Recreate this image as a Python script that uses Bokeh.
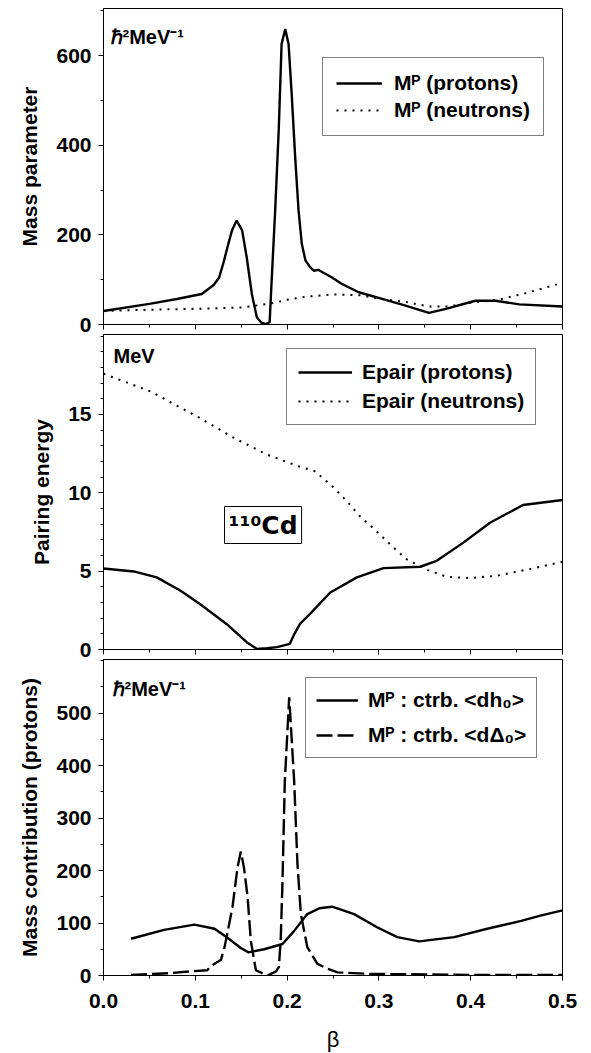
from bokeh.plotting import figure
from bokeh.layouts import column
from bokeh.models import (Legend, LegendItem, Label, FixedTicker, SingleIntervalTicker,
                          NumeralTickFormatter, Range1d)
from bokeh.embed import file_html
from bokeh.resources import INLINE

# ---------------- data ----------------
# Panel 1: mass parameter (hbar^2 MeV^-1)
beta_mp_protons = [0.0, 0.05, 0.08, 0.107, 0.12, 0.126, 0.131, 0.136, 0.14, 0.145,
                   0.151, 0.156, 0.1616, 0.167, 0.172, 0.177, 0.181, 0.183, 0.187,
                   0.191, 0.194, 0.198, 0.2016, 0.205, 0.209, 0.2125, 0.216, 0.22,
                   0.225, 0.229, 0.234, 0.24, 0.249, 0.26, 0.278, 0.3035, 0.329,
                   0.3545, 0.373, 0.405, 0.427, 0.453, 0.5]
mp_protons = [30, 46, 57, 68, 88, 105, 140, 180, 210, 232,
              210, 150, 68, 16, 4, 1, 5, 91, 254,
              440, 626, 659, 626, 514, 366, 254, 180, 143,
              128, 120, 122, 115, 105, 90, 72, 57, 42,
              26, 35, 53, 53, 45, 40]

beta_mp_neutrons = [0.0, 0.05, 0.1, 0.15, 0.18, 0.2, 0.22, 0.25, 0.28, 0.30, 0.33,
                    0.355, 0.375, 0.405, 0.43, 0.46, 0.5]
mp_neutrons = [30, 33, 35, 38, 46, 55, 62, 67, 65, 58, 50,
               40, 40, 50, 55, 70, 93]

# Panel 2: pairing energy (MeV)
beta_ep_protons = [0.0, 0.033, 0.058, 0.084, 0.105, 0.134, 0.156, 0.167, 0.178, 0.189,
                   0.203, 0.208, 0.214, 0.225, 0.247, 0.276, 0.305, 0.345, 0.363,
                   0.392, 0.421, 0.457, 0.5]
ep_protons = [5.17, 4.98, 4.6, 3.75, 2.9, 1.63, 0.47, 0.04, 0.08, 0.15,
              0.36, 1.0, 1.63, 2.27, 3.64, 4.6, 5.19, 5.28, 5.66,
              6.82, 8.09, 9.22, 9.54]

beta_ep_neutrons = [0.0, 0.051, 0.105, 0.142, 0.178, 0.212, 0.23, 0.249, 0.265, 0.279,
                    0.297, 0.314, 0.33, 0.339, 0.355, 0.374, 0.399, 0.428, 0.464, 0.5]
ep_neutrons = [17.6, 16.47, 14.77, 13.5, 12.44, 11.7, 11.38, 10.43, 9.47, 8.52,
               7.57, 6.61, 5.77, 5.49, 5.02, 4.64, 4.56, 4.7, 5.13, 5.6]

# Panel 3: mass contributions (protons)
beta_dh = [0.03, 0.066, 0.099, 0.121, 0.135, 0.15, 0.158, 0.175, 0.195, 0.2077,
           0.222, 0.235, 0.249, 0.273, 0.298, 0.32, 0.344, 0.382, 0.418, 0.455,
           0.476, 0.5]
m_dh = [70, 87, 97, 89, 72, 52, 44, 50, 60, 85,
        117, 128, 131, 117, 92, 73, 65, 73, 89, 104,
        114, 124]

beta_ddelta = [0.03, 0.073, 0.095, 0.113, 0.117, 0.128, 0.132, 0.1405, 0.146, 0.1496,
               0.153, 0.157, 0.1605, 0.166, 0.1787, 0.188, 0.191, 0.193, 0.195,
               0.1975, 0.2023, 0.2077, 0.2113, 0.215, 0.222, 0.233, 0.244, 0.255,
               0.29, 0.35, 0.4, 0.5]
m_ddelta = [1, 4.5, 8, 10, 18, 30, 55, 130, 206, 236,
            206, 149, 66, 10, 0, 8, 16, 66, 180,
            370, 530, 370, 212, 117, 54, 22, 13, 6,
            3, 2, 1, 1]

# tick values
y1_ticks = [0, 200, 400, 600]
y1_minor = [0, 100, 200, 300, 400, 500, 600, 700]
y2_ticks = [0, 5, 10, 15]
y2_minor = [0, 1, 2, 3, 4, 5, 6, 7, 8, 9, 10, 11, 12, 13, 14, 15, 16, 17, 18, 19, 20]
y3_ticks = [0, 100, 200, 300, 400, 500]
y3_minor = [0, 50, 100, 150, 200, 250, 300, 350, 400, 450, 500, 550, 600]
y_labels = ["Mass parameter", "Pairing energy", "Mass contribution (protons)"]

# ---------------- styling helpers ----------------
FONT = "Liberation Sans"
FS = "21px"
LW = 2.4


def make_fig(ymax, ticks, minor, top, bottom, frame_h, ylabel, show_x):
    p = figure(frame_width=459, frame_height=frame_h,
               x_range=Range1d(0, 0.5), y_range=Range1d(0, ymax),
               min_border_left=103, min_border_right=29,
               min_border_top=top, min_border_bottom=bottom,
               output_backend="svg", toolbar_location=None)
    p.xgrid.visible = False
    p.ygrid.visible = False
    p.outline_line_color = "black"
    p.outline_line_width = 1
    p.background_fill_color = "white"

    p.xaxis.ticker = SingleIntervalTicker(interval=0.1, num_minor_ticks=2)
    p.xaxis.formatter = NumeralTickFormatter(format="0.0")
    p.yaxis.ticker = FixedTicker(ticks=ticks, minor_ticks=minor)
    for ax in (p.xaxis, p.yaxis):
        ax.axis_line_color = "black"
        ax.major_tick_line_color = "black"
        ax.minor_tick_line_color = "black"
        ax.major_tick_out = 5
        ax.major_tick_in = 0
        ax.minor_tick_out = 3
        ax.minor_tick_in = 0
        ax.major_label_text_font = FONT
        ax.major_label_text_font_style = "bold"
        ax.major_label_text_font_size = FS
        ax.major_label_text_color = "black"
        ax.axis_label_text_font = FONT
        ax.axis_label_text_color = "black"
    p.yaxis.axis_label = ylabel
    p.yaxis.axis_label_text_font_style = "bold"
    p.yaxis.axis_label_text_font_size = FS
    p.yaxis.major_label_standoff = 7
    p.yaxis.axis_label_standoff = 12
    if not show_x:
        p.xaxis.major_label_text_color = None
        p.xaxis.major_label_text_font_size = "1px"
        p.xaxis.major_label_standoff = 0
    return p


def style_legend(leg, loc, glyph_w, standoff, spacing, padding):
    leg.location = loc
    leg.margin = 0
    leg.padding = padding
    leg.spacing = spacing
    leg.glyph_width = glyph_w
    leg.glyph_height = 22
    leg.label_height = 22
    leg.label_standoff = standoff
    leg.label_text_font = FONT
    leg.label_text_font_style = "bold"
    leg.label_text_font_size = FS
    leg.label_text_color = "black"
    leg.border_line_color = "black"
    leg.border_line_width = 1
    leg.background_fill_color = "white"
    leg.background_fill_alpha = 1


def unit_label(p, text, x, y):
    p.add_layout(Label(x=x, y=y, x_units="screen", y_units="screen", text=text,
                       text_font=FONT, text_font_style="bold", text_font_size="20px",
                       text_baseline="top", text_align="left", text_color="black"))


# ---------------- panel 1 ----------------
p1 = make_fig(705, y1_ticks, y1_minor, 8, 20, 316, y_labels[0], False)
r1 = p1.line(beta_mp_protons, mp_protons, line_color="black", line_width=LW)
r2 = p1.line(beta_mp_neutrons, mp_neutrons, line_color="black", line_width=2,
             line_dash="2 6")
leg1 = Legend(items=[LegendItem(label="Mᴾ (protons)", renderers=[r1]),
                     LegendItem(label="Mᴾ (neutrons)", renderers=[r2])])
style_legend(leg1, (219, 188), 46, 12, 3, 13)
p1.add_layout(leg1)
unit_label(p1, "ℏ²MeV⁻¹", 7, 299)

# ---------------- panel 2 ----------------
p2 = make_fig(20.1, y2_ticks, y2_minor, 1, 20, 315, y_labels[1], False)
p2.margin = (-11, 0, 0, 0)
p2.border_fill_alpha = 0
r3 = p2.line(beta_ep_protons, ep_protons, line_color="black", line_width=LW)
r4 = p2.line(beta_ep_neutrons, ep_neutrons, line_color="black", line_width=2,
             line_dash="2 6")
leg2 = Legend(items=[LegendItem(label="Epair (protons)", renderers=[r3]),
                     LegendItem(label="Epair (neutrons)", renderers=[r4])])
style_legend(leg2, (183, 224), 54, 10, 5, 11)
p2.add_layout(leg2)
unit_label(p2, "MeV", 10, 305)
p2.add_layout(Label(x=121, y=106, x_units="screen", y_units="screen",
                    text="¹¹⁰Cd", text_font="DejaVu Sans", text_font_style="bold",
                    text_font_size="25px", text_baseline="bottom",
                    text_color="black", border_line_color="black",
                    border_line_width=1, background_fill_color="white",
                    padding=4))

# ---------------- panel 3 ----------------
p3 = make_fig(602, y3_ticks, y3_minor, 1, 78, 316, y_labels[2], True)
p3.margin = (-11, 0, 0, 0)
p3.border_fill_alpha = 0
r5 = p3.line(beta_dh, m_dh, line_color="black", line_width=LW)
r6 = p3.line(beta_ddelta, m_ddelta, line_color="black", line_width=LW,
             line_dash="16 5")
leg3 = Legend(items=[LegendItem(label="Mᴾ : ctrb. <dh₀>", renderers=[r5]),
                     LegendItem(label="Mᴾ : ctrb. <dΔ₀>", renderers=[r6])])
style_legend(leg3, (202, 217), 42, 10, 11, 10)
p3.add_layout(leg3)
unit_label(p3, "ℏ²MeV⁻¹", 9, 298)
p3.xaxis.axis_label = "β"
p3.xaxis.axis_label_text_font_style = "normal"
p3.xaxis.axis_label_text_font_size = "22px"
p3.xaxis.major_label_standoff = 13
p3.xaxis.axis_label_standoff = 16

layout = column(p1, p2, p3, spacing=0)

with open("out.html", "w") as f:
    f.write(file_html(layout, INLINE))
